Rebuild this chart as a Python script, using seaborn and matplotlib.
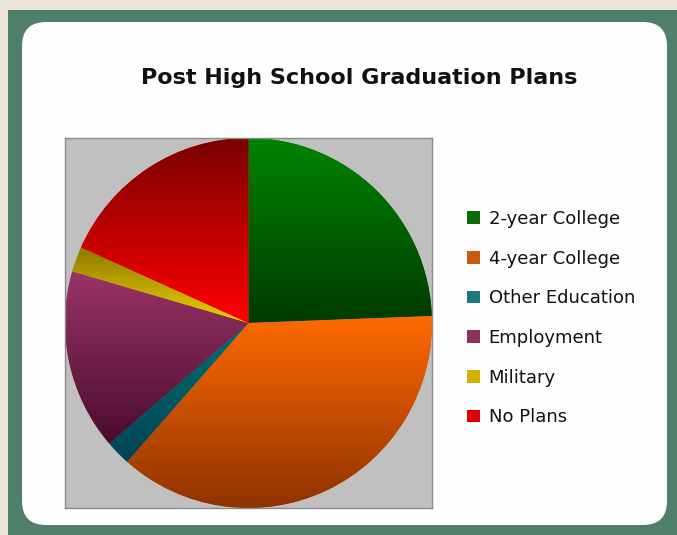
import matplotlib
matplotlib.use('Agg')
import matplotlib.pyplot as plt
import numpy as np
import seaborn as sns
from matplotlib.patches import FancyBboxPatch, Rectangle, Patch
from matplotlib.colors import LinearSegmentedColormap

# data (share of students, %)
plans = ['2-year College', '4-year College', 'Other Education', 'Employment', 'Military', 'No Plans']
shares = [24.4, 37.1, 2.2, 15.8, 2.2, 18.3]

# legend swatch colours and gradient ends (top -> bottom) for each wedge
swatch_colors = ['#0b6b0b', '#c85a10', '#1a7a80', '#8b3060', '#d4b000', '#e00000']
grad_top = ['#008400', '#ff6a00', '#007070', '#9a3468', '#8c7800', '#7a0000']
grad_bottom = ['#003a00', '#8f3300', '#004455', '#4a0c2c', '#f0d000', '#ff0000']

sns.set_style('white')
W, H = 677, 535
fig = plt.figure(figsize=(W / 100, H / 100), dpi=100)
fig.patch.set_facecolor('#ece4da')

# green frame and white rounded card (pixel coordinates), kept behind the axes
fig.add_artist(Rectangle((8, 0), W - 8, H - 10, transform=None, facecolor='#4f7e6a',
                         edgecolor='none', zorder=-10))
fig.add_artist(FancyBboxPatch((22, 10), 645, 503, boxstyle='round,pad=0,rounding_size=24',
                              transform=None, facecolor='#fefefe', edgecolor='none', zorder=-9))

fig.text(359 / W, 1 - 78 / H, 'Post High School Graduation Plans', ha='center', va='center',
         fontsize=16, fontweight='bold', color='#111111')

# plot area
ax = fig.add_axes([65 / W, 27 / H, 367 / W, 370 / H])
ax.set_zorder(1)
ax.set_facecolor('#c0c0c0')
palette = sns.color_palette(swatch_colors)
wedges, _ = ax.pie(shares, colors=palette, startangle=90, counterclock=False, radius=1.0,
                   wedgeprops=dict(edgecolor='none'), frame=True)

# vertical gradient inside each wedge
for w, ct, cb in zip(wedges, grad_top, grad_bottom):
    bb = w.get_path().get_extents()
    cmap = LinearSegmentedColormap.from_list('g', [cb, ct])
    grad = np.linspace(0, 1, 256).reshape(-1, 1)
    ax.imshow(grad, extent=[bb.x0, bb.x1, bb.y0, bb.y1], origin='lower', cmap=cmap,
              aspect='auto', clip_path=w, zorder=2, interpolation='bilinear')

ax.set_aspect('auto')
ax.set_xlim(-1.0, 1.0)
ax.set_ylim(-1.0, 1.0)
ax.set_xticks([])
ax.set_yticks([])
for s in ax.spines.values():
    s.set_color('#8a8a8a')
    s.set_linewidth(1.0)

handles = [Patch(facecolor=c, edgecolor='none') for c in palette]
leg = fig.legend(handles, plans, loc='upper left', bbox_to_anchor=(458 / W, 1 - 201 / H),
                 frameon=False, prop=dict(size=13), handlelength=0.7, handleheight=0.7,
                 handletextpad=0.5, labelspacing=1.2, borderpad=0)
for t in leg.get_texts():
    t.set_color('#111111')

plt.savefig('out.png', dpi=100, facecolor=fig.get_facecolor())
